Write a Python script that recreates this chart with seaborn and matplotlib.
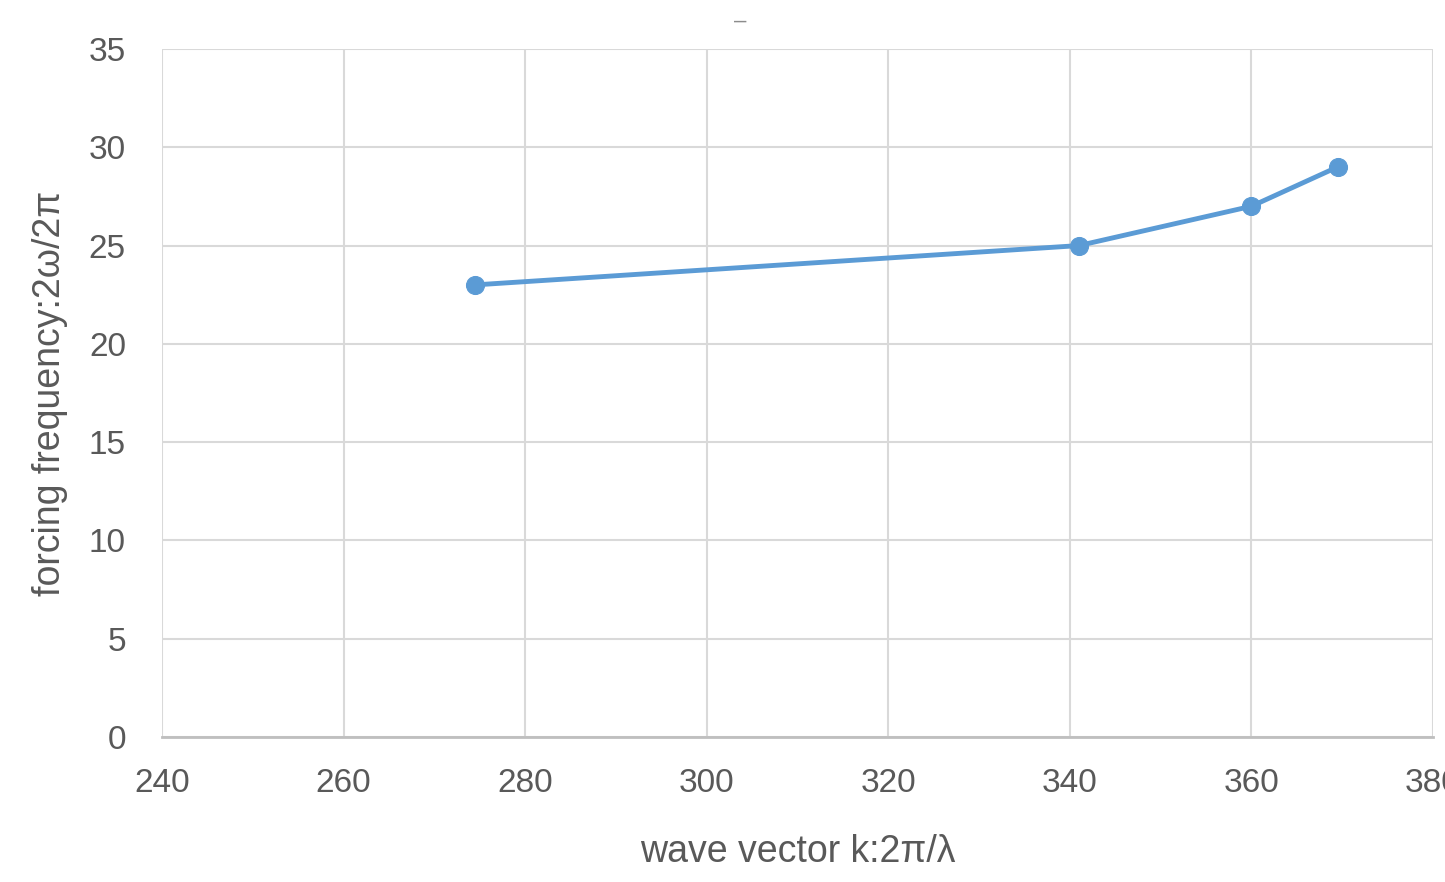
import matplotlib
matplotlib.use("Agg")
import matplotlib.pyplot as plt
import seaborn as sns
import pandas as pd

wave_vector = [274.5, 341.0, 360.0, 369.5]
forcing_freq = [23.0, 25.0, 27.0, 29.0]
x_ticks = [240, 260, 280, 300, 320, 340, 360, 380]
y_ticks = [0, 5, 10, 15, 20, 25, 30, 35]

df = pd.DataFrame({"k": wave_vector, "f": forcing_freq})

sns.set_theme(style="white")
plt.rcParams['font.family'] = ['Liberation Sans Narrow', 'Liberation Sans', 'DejaVu Sans']

fig = plt.figure(figsize=(14.45, 8.82), dpi=100)
ax = fig.add_axes([162/1445, 1-737/882, 1271/1445, 688/882])

sns.lineplot(data=df, x="k", y="f", ax=ax, color="#5b9bd5", linewidth=3.5,
             marker="o", markersize=13, markeredgecolor="#5b9bd5")

ax.set_xlim(240, 380)
ax.set_ylim(0, 35)
ax.set_xticks(x_ticks)
ax.set_yticks(y_ticks)
ax.grid(True, color="#d9d9d9", linewidth=1.5)
ax.set_axisbelow(True)
for s in ["left", "top", "right"]:
    ax.spines[s].set_visible(False)
ax.spines["bottom"].set_color("#bfbfbf")
ax.spines["bottom"].set_linewidth(2)
ax.tick_params(axis="both", length=0, labelsize=24, colors="#595959")
ax.tick_params(axis="y", pad=26)
ax.tick_params(axis="x", pad=22)

ax.set_xlabel("wave vector k:2π/λ", fontsize=27, color="#595959", va="center")
ax.set_ylabel("forcing frequency:2ω/2π", fontsize=27, color="#595959", va="center")
ax.xaxis.set_label_coords(0.5, (737-852)/688)
ax.yaxis.set_label_coords((50-162)/1271, 0.5)
fig.text(740/1445, 1-21/882, "–", fontsize=16, color="#8c8c8c", ha="center", va="center")

fig.savefig("out.png", dpi=100)
